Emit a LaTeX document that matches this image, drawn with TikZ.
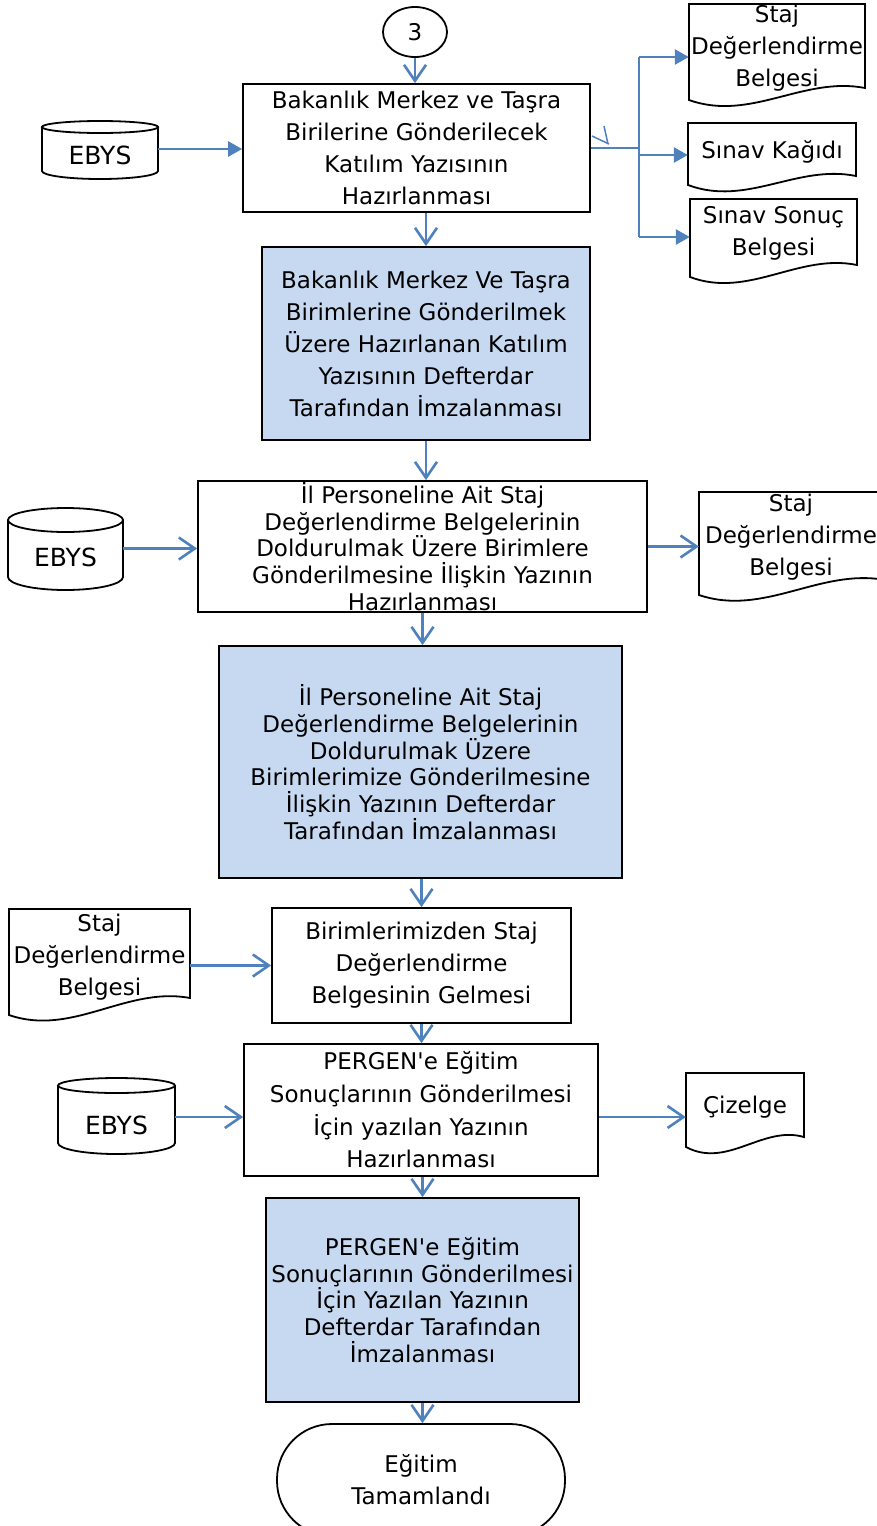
\documentclass[tikz,border=0pt]{standalone}
\usepackage{fontspec}
\setmainfont{DejaVu Sans}[Ligatures=TeXOff]
\usetikzlibrary{arrows.meta,shapes.geometric}
\definecolor{lineblue}{RGB}{79,129,189}
\definecolor{fillblue}{RGB}{198,217,241}
\newcommand{\docpath}[5]{\draw[shapeline, fill=white] (#1,#3) -- (#2,#3) -- (#2,#5) .. controls ({#1+0.65*(#2-#1)},{#5-12}) and ({#1+0.35*(#2-#1)},{#4+22}) .. (#1,#4) -- cycle;}
\newcommand{\cylpath}[6]{% x1, cx, x2, ytop, ybot, rx
\fill[white] (#1,#4) rectangle (#3,#5);
\draw[shapeline] (#1,#4) -- (#1,#5) arc[start angle=180,end angle=360,x radius=#6pt,y radius=\cylryb pt] -- (#3,#4);
\draw[shapeline, fill=white] (#2,#4) ellipse [x radius=#6pt, y radius=\cylryt pt];}
\begin{document}
\begin{tikzpicture}[x=1pt,y=-1pt,
  base/.style={font=\fontsize{23}{32}\selectfont, align=center, inner sep=0pt},
  tight/.style={font=\fontsize{23}{26.7}\selectfont},
  cyltext/.style={base, font=\fontsize{25}{30}\selectfont},
  proc/.style={base, draw=black, line width=1.8pt, fill=white},
  procb/.style={proc, fill=fillblue},
  shapeline/.style={draw=black, line width=1.8pt},
  bline/.style={draw=lineblue, line width=2.6pt},
  conn/.style={bline, -{Straight Barb[length=16pt,width=22pt]}},
  fconn/.style={bline, -{Triangle[length=14pt,width=15pt]}}]
\useasboundingbox (0,0) rectangle (877,1526);
\clip (0,0) rectangle (877,1526);
\fill[white] (0,0) rectangle (877,1526);

% documents
\docpath{689}{865}{4}{100}{88}
\docpath{688}{856}{123}{185}{176}
\docpath{690}{857}{199}{277}{265}
\docpath{699}{885}{492}{595}{580}
\docpath{9}{190}{909}{1015}{998}
\docpath{686}{804}{1073}{1147}{1137}

% cylinders
\def\cylryt{6}\def\cylryb{8}
\cylpath{42}{100}{158}{127}{171}{58}
\def\cylryt{12}\def\cylryb{13}
\cylpath{8}{65.5}{123}{520}{577}{57.5}
\def\cylryt{7.5}\def\cylryb{11}
\cylpath{58}{116.5}{175}{1085.5}{1143}{58.5}

% nodes
\node[base, shapeline, ellipse, minimum width=64pt, minimum height=50pt] (c3) at (415,32) {3};

\node[proc, minimum width=347pt, minimum height=128pt] (b1) at (416.5,148)
  {Bakanlık Merkez ve Taşra\\Birilerine Gönderilecek\\Katılım Yazısının\\Hazırlanması};
\node[procb, minimum width=328pt, minimum height=193pt] (b2) at (426,343.5)
  {Bakanlık Merkez Ve Taşra\\Birimlerine Gönderilmek\\Üzere Hazırlanan Katılım\\Yazısının Defterdar\\Tarafından İmzalanması};
\node[proc, tight, minimum width=449pt, minimum height=131pt] (b3) at (422.5,546.5)
  {İl Personeline Ait Staj\\Değerlendirme Belgelerinin\\Doldurulmak Üzere Birimlere\\Gönderilmesine İlişkin Yazının\\Hazırlanması};
\node[procb, tight, minimum width=403pt, minimum height=232pt] (b4) at (420.5,762)
  {İl Personeline Ait Staj\\Değerlendirme Belgelerinin\\Doldurulmak Üzere\\Birimlerimize Gönderilmesine\\İlişkin Yazının Defterdar\\Tarafından İmzalanması};
\node[proc, minimum width=299pt, minimum height=115pt] (b5) at (421.5,965.5)
  {Birimlerimizden Staj\\Değerlendirme\\Belgesinin Gelmesi};
\node[proc, font=\fontsize{23}{32.7}\selectfont, minimum width=354pt, minimum height=132pt] (b6) at (421,1110)
  {PERGEN'e Eğitim\\Sonuçlarının Gönderilmesi\\İçin yazılan Yazının\\Hazırlanması};
\node[procb, tight, minimum width=313pt, minimum height=204pt] (b7) at (422.5,1300)
  {PERGEN'e Eğitim\\Sonuçlarının Gönderilmesi\\İçin Yazılan Yazının\\Defterdar Tarafından\\İmzalanması};
\node[base, shapeline, rounded corners=55pt, minimum width=288pt, minimum height=112pt] (t) at (421,1480)
  {Eğitim\\Tamamlandı};

\node[cyltext, minimum width=116pt] (e1) at (100,149) {\raisebox{-15.1pt}[0pt][0pt]{EBYS}};
\node[cyltext, minimum width=115pt] (e2) at (65.5,548.5) {\raisebox{-17.6pt}[0pt][0pt]{EBYS}};
\node[cyltext, minimum width=117pt] (e3) at (116.5,1117) {\raisebox{-17.1pt}[0pt][0pt]{EBYS}};

\node[base, minimum width=176pt] (d1) at (777,48) {Staj\\Değerlendirme\\Belgesi};
\node[base, minimum width=168pt] (d2) at (772,152) {Sınav Kağıdı};
\node[base, minimum width=167pt] (d3) at (773.5,233) {Sınav Sonuç\\Belgesi};
\node[base, minimum width=184pt] (d4) at (791,537) {Staj\\Değerlendirme\\Belgesi};
\node[base, minimum width=181pt] (d5) at (99.5,957) {Staj\\Değerlendirme\\Belgesi};
\node[base, minimum width=118pt] (d6) at (745,1107) {Çizelge};

% vertical connectors
\draw[conn] (c3.south) -- (c3.south |- b1.north);
\draw[conn] (b1.south -| b2.north) -- (b2.north);
\draw[conn] (b2.south) -- (b2.south |- b3.north);
\draw[conn] (b3.south) -- (b3.south |- b4.north);
\draw[conn] (b4.south -| b5.north) -- (b5.north);
\draw[conn] (b5.south) -- (b5.south |- b6.north);
\draw[conn] (b6.south -| b7.north) -- (b7.north);
\draw[conn] (b7.south) -- (b7.south |- t.north);

% horizontal connectors
\draw[fconn] (e1.east) -- (e1.east -| b1.west);
\draw[conn] (e2.east) -- (e2.east -| b3.west);
\draw[conn] (b3.east) -- (b3.east -| d4.west);
\draw[conn] (d5.east |- b5.west) -- (b5.west);
\draw[conn] (e3.east) -- (e3.east -| b6.west);
\draw[conn] (b6.east |- e3.east) -- (d6.west |- e3.east);

% top-right branching
\coordinate (j0) at (639,148);
\coordinate (j1) at (639,57);
\coordinate (j2) at (639,155);
\coordinate (j3) at (639,237);
\draw[bline] (b1.east) -- (j0);
\draw[bline] (j1) -- (j3);
\draw[fconn] (j1) -- (j1 -| d1.west);
\draw[fconn] (j2) -- (j2 -| d2.west);
\draw[fconn] (j3) -- (j3 -| d3.west);
% stray mark
\draw[lineblue, line width=1.5pt] (592,136) -- (609,144);
\draw[lineblue, line width=1.5pt] (604,126) -- (608,144);
\end{tikzpicture}
\end{document}
